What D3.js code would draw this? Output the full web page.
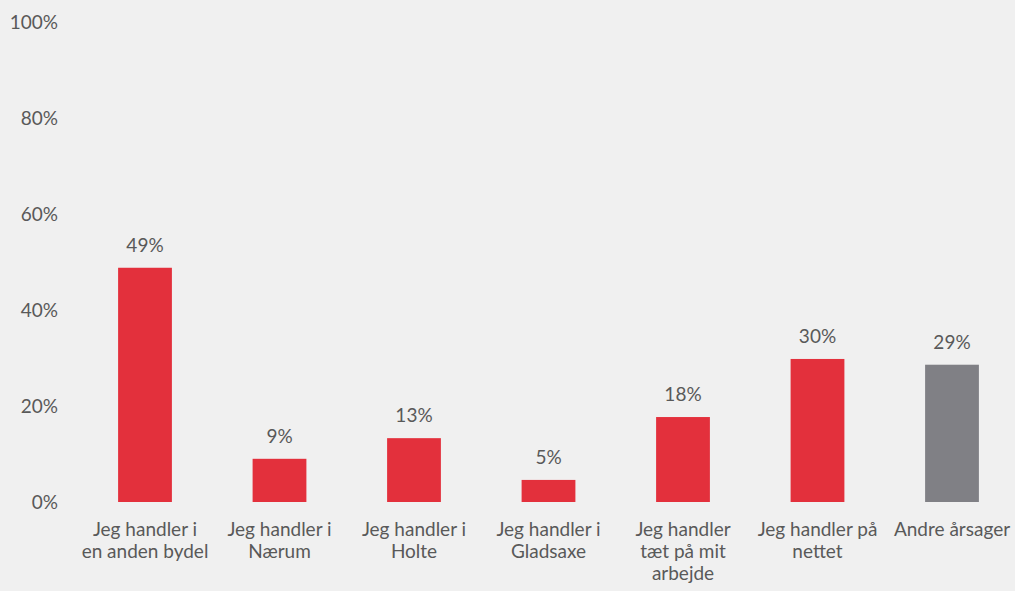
<!DOCTYPE html>
<html><head><meta charset="utf-8">
<script src="https://cdn.jsdelivr.net/npm/d3@7"></script>
<style>html,body{margin:0;padding:0;background:#f0f0f0;}svg{display:block;}</style>
</head><body><div id="chart"></div>
<script>
const categories = [
  ["Jeg handler i","en anden bydel"],
  ["Jeg handler i","Nærum"],
  ["Jeg handler i","Holte"],
  ["Jeg handler i","Gladsaxe"],
  ["Jeg handler","tæt på mit","arbejde"],
  ["Jeg handler på","nettet"],
  ["Andre årsager"]
];
const values = [48.8, 9.0, 13.3, 4.6, 17.7, 29.8, 28.6];
const valueLabels = ["49%","9%","13%","5%","18%","30%","29%"];
const barColors = ["#e3303c","#e3303c","#e3303c","#e3303c","#e3303c","#e3303c","#808085"];
const yTicks = [0,20,40,60,80,100];

const W = 1015, H = 591;
const svg = d3.select("#chart").append("svg").attr("width",W).attr("height",H);
svg.append("rect").attr("width",W).attr("height",H).attr("fill","#f0f0f0");
const font = "Lato, 'Open Sans', sans-serif";
const fs = "19px";
const x = d3.scaleBand().domain(d3.range(categories.length)).range([77.75, 1019.25]).paddingInner(0.6).paddingOuter(0.3);
const y = d3.scaleLinear().domain([0,100]).range([502,22]);

const yAxis = svg.append("g").attr("transform","translate(58,0)")
  .call(d3.axisLeft(y).tickValues(yTicks).tickFormat(d=>d+"%").tickSize(0).tickPadding(0));
yAxis.select(".domain").remove();
yAxis.selectAll("text").attr("fill","#595959").style("font-family",font).style("font-size",fs);

svg.selectAll("rect.bar").data(values).join("rect").attr("class","bar")
  .attr("x",(d,i)=>x(i)).attr("width",x.bandwidth())
  .attr("y",d=>y(d)).attr("height",d=>y(0)-y(d))
  .attr("fill",(d,i)=>barColors[i]);

svg.selectAll("text.val").data(values).join("text").attr("class","val")
  .attr("x",(d,i)=>x(i)+x.bandwidth()/2).attr("y",d=>y(d)-16)
  .attr("text-anchor","middle").attr("fill","#595959")
  .style("font-family",font).style("font-size",fs)
  .text((d,i)=>valueLabels[i]);

const xAxis = svg.append("g").attr("transform","translate(0,502)")
  .call(d3.axisBottom(x).tickSize(0).tickFormat(""));
xAxis.select(".domain").remove();
xAxis.selectAll(".tick").each(function(d){
  const t = d3.select(this).append("text").attr("text-anchor","middle").attr("fill","#595959")
    .style("font-family",font).style("font-size",fs);
  categories[d].forEach((line,j)=>{
    t.append("tspan").attr("x",0).attr("y",34+j*22).text(line);
  });
});
</script></body></html>
